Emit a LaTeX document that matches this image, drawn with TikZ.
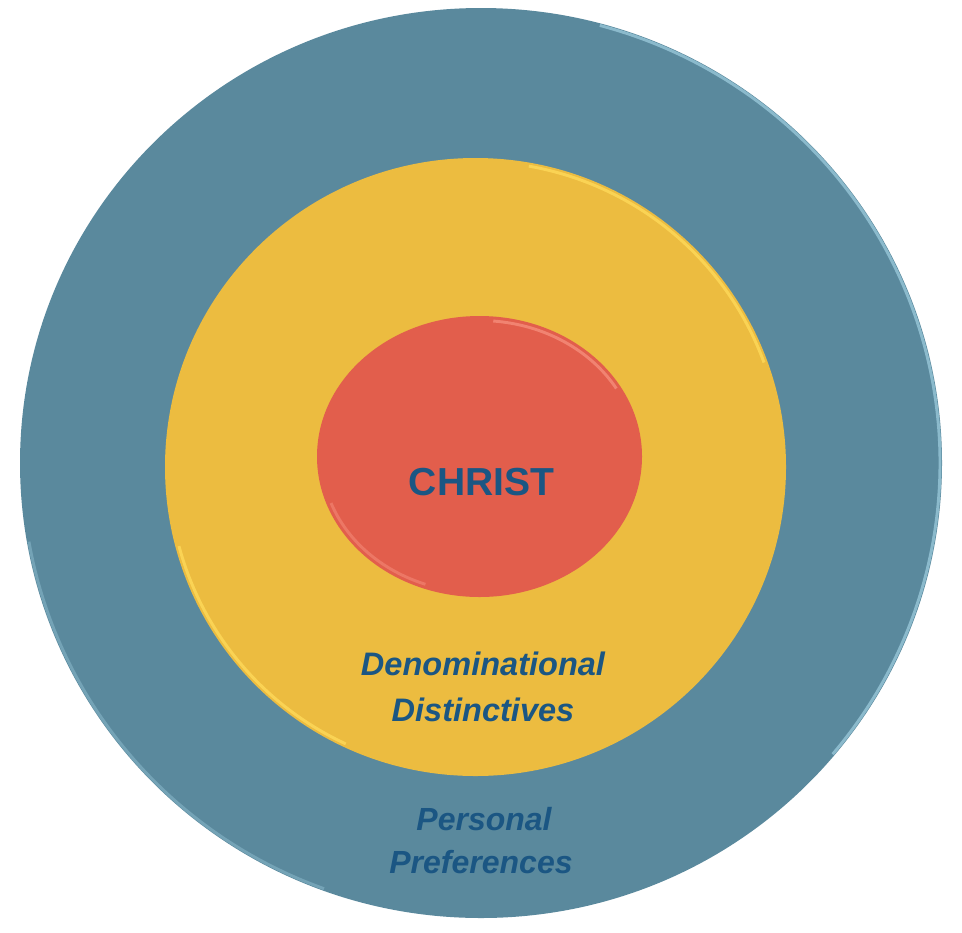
\documentclass[tikz,border=0pt]{standalone}
\usepackage{fontspec}
\setmainfont{Liberation Sans}
\definecolor{outerblue}{HTML}{5A899D}
\definecolor{outerrim}{HTML}{9CCBDD}
\definecolor{midyellow}{HTML}{ECBC40}
\definecolor{midrim}{HTML}{FFDB5C}
\definecolor{innerred}{HTML}{E25E4C}
\definecolor{innerrim}{HTML}{F7907E}
\definecolor{labelblue}{HTML}{1B5683}
\tikzset{
  rim/.style={line width=2.2pt, opacity=0.75},
  lbl/.style={text=labelblue, font=\bfseries, anchor=base, inner sep=0pt},
  lbli/.style={lbl, font=\bfseries\itshape}
}
\begin{document}
\begin{tikzpicture}[x=0.75pt,y=-0.75pt]
\useasboundingbox (0,0) rectangle (962,932);
% outer ring
\fill[outerblue] (481,463) ellipse [x radius=461, y radius=455];
\draw[rim, outerrim] (481,463) ++(-75:459 and 453) arc [start angle=-75, end angle=40, x radius=459, y radius=453];
\draw[rim, outerrim, opacity=0.4] (481,463) ++(-190:459 and 453) arc [start angle=-190, end angle=-250, x radius=459, y radius=453];
% middle ring
\fill[midyellow] (475.5,467) ellipse [x radius=310.5, y radius=309];
\draw[rim, midrim] (475.5,467) ++(-80:307 and 305.5) arc [start angle=-80, end angle=-20, x radius=307, y radius=305.5];
\draw[rim, midrim] (475.5,467) ++(-195:307 and 305.5) arc [start angle=-195, end angle=-245, x radius=307, y radius=305.5];
% inner circle
\fill[innerred] (479.5,456.5) ellipse [x radius=162.5, y radius=140.5];
\draw[rim, innerrim] (479.5,456.5) ++(-85:158 and 136) arc [start angle=-85, end angle=-30, x radius=158, y radius=136];
\draw[rim, innerrim, opacity=0.5] (479.5,456.5) ++(-200:158 and 136) arc [start angle=-200, end angle=-250, x radius=158, y radius=136];
% labels
\node[lbl, font=\bfseries\fontsize{29.3}{35}\selectfont] (christ) at (481.5,495) {CHRIST};
\node[lbli, font=\bfseries\itshape\fontsize{24.4}{30}\selectfont] (denom1) at (483,675) {Denominational};
\node[lbli, font=\bfseries\itshape\fontsize{24.4}{30}\selectfont] (denom2) at (483,721) {Distinctives};
\node[lbli, font=\bfseries\itshape\fontsize{24}{30}\selectfont] (pers1) at (484,830) {Personal};
\node[lbli, font=\bfseries\itshape\fontsize{24}{30}\selectfont] (pers2) at (481,873) {Preferences};
\end{tikzpicture}
\end{document}
